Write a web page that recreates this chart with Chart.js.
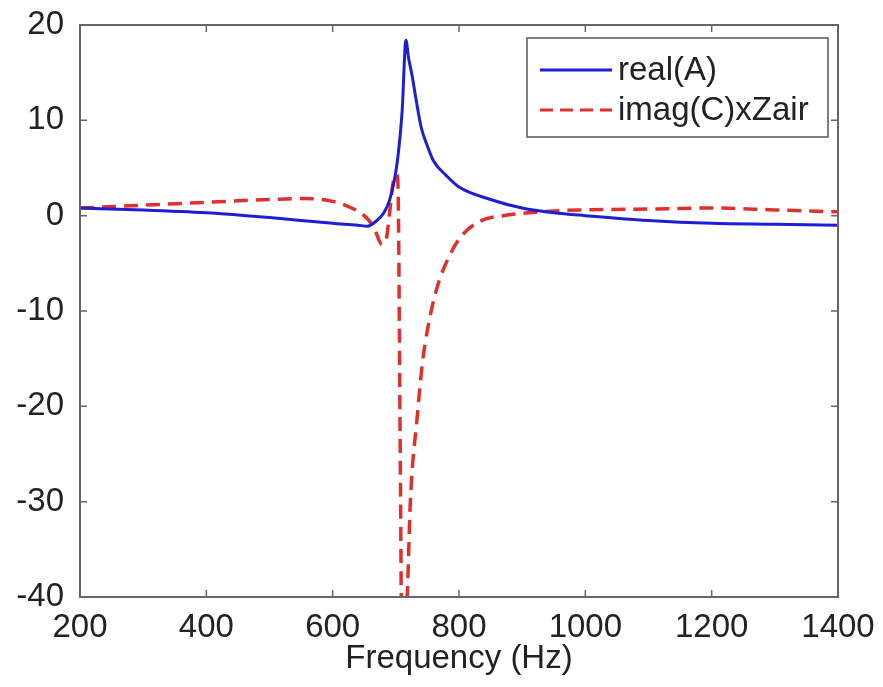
<!DOCTYPE html>
<html>
<head>
<meta charset="utf-8">
<script src="https://cdn.jsdelivr.net/npm/chart.js@4.4.0/dist/chart.umd.min.js"></script>
<style>
  html, body { margin: 0; padding: 0; background: #fff; }
  #wrap { width: 883px; height: 687px; }
</style>
</head>
<body>
<div id="wrap"><canvas id="myChart" width="883" height="687"></canvas></div>
<script>
// real(A) curve
var freqA = [200, 300, 400, 500, 600, 640, 655, 670, 680, 690, 700, 705, 710, 716, 720, 726, 732, 740, 750, 760, 780, 800, 850, 900, 950, 1000, 1100, 1200, 1300, 1400];
var realA = [0.8, 0.6, 0.3, -0.2, -0.8, -1.0, -1.1, -0.5, 0.2, 1.6, 4.6, 7.2, 11.0, 18.4, 16.6, 14.6, 12.2, 9.3, 7.3, 5.7, 4.2, 3.0, 1.7, 0.8, 0.3, 0.0, -0.5, -0.8, -0.9, -1.0];

// imag(C)xZair curve
var freqC = [200, 300, 400, 500, 550, 600, 630, 650, 665, 678, 685, 690, 695, 702, 704, 707, 710, 718, 723, 734, 742, 750, 765, 780, 802, 833, 870, 910, 950, 1000, 1100, 1200, 1300, 1400];
var imagC = [0.8, 1.1, 1.4, 1.7, 1.8, 1.5, 0.8, 0.0, -1.2, -3.0, -2.4, 0.2, 3.2, 4.3, 1.0, -25, -48, -40, -30, -21, -15.5, -12, -7.6, -4.9, -2.3, -0.6, 0.0, 0.3, 0.5, 0.6, 0.7, 0.8, 0.6, 0.4];

var xTicks = [200, 400, 600, 800, 1000, 1200, 1400];
var yTicks = [-40, -30, -20, -10, 0, 10, 20];
var seriesNames = ['real(A)', 'imag(C)xZair'];

var blue = '#1e1ed2';
var red = '#e0302c';
var fontFam = '"Liberation Sans", Arial, sans-serif';

function pairs(xs, ys) {
    return xs.map(function(x, i) { return {x: x, y: ys[i]}; });
}

// matlab style box, inward ticks, legend
var boxPlugin = {
    id: 'boxPlugin',
    afterDatasetsDraw: function(chart) {
        var ctx = chart.ctx;
        var a = chart.chartArea;
        var sx = chart.scales.x, sy = chart.scales.y;
        ctx.save();
        ctx.strokeStyle = '#666';
        ctx.lineWidth = 2;
        ctx.strokeRect(a.left, a.top, a.right - a.left, a.bottom - a.top);
        ctx.lineWidth = 1.5;
        ctx.beginPath();
        xTicks.forEach(function(v) {
            var px = sx.getPixelForValue(v);
            ctx.moveTo(px, a.bottom); ctx.lineTo(px, a.bottom - 7);
            ctx.moveTo(px, a.top); ctx.lineTo(px, a.top + 7);
        });
        yTicks.forEach(function(v) {
            var py = sy.getPixelForValue(v);
            ctx.moveTo(a.left, py); ctx.lineTo(a.left + 7, py);
            ctx.moveTo(a.right, py); ctx.lineTo(a.right - 7, py);
        });
        ctx.stroke();

        // legend box
        var lx = 527, ly = 38, lw = 301, lh = 99;
        ctx.fillStyle = '#fff';
        ctx.fillRect(lx, ly, lw, lh);
        ctx.strokeStyle = '#555';
        ctx.lineWidth = 1.5;
        ctx.strokeRect(lx, ly, lw, lh);
        var rows = [70, 110];
        var cols = [blue, red];
        ctx.font = '33px ' + fontFam;
        ctx.textBaseline = 'middle';
        for (var i = 0; i < 2; i++) {
            ctx.strokeStyle = cols[i];
            ctx.lineWidth = 3;
            ctx.setLineDash(i == 1 ? [13, 7] : []);
            ctx.beginPath();
            ctx.moveTo(540, rows[i]); ctx.lineTo(612, rows[i]);
            ctx.stroke();
            ctx.setLineDash([]);
            ctx.fillStyle = '#222';
            ctx.fillText(seriesNames[i], 618, rows[i] + 1);
        }
        ctx.restore();
    }
};

new Chart("myChart", {
    type: "line",
    data: {
        datasets: [
        {
            label: seriesNames[0],
            data: pairs(freqA, realA),
            borderColor: blue,
            borderWidth: 3,
            pointRadius: 0,
            cubicInterpolationMode: 'monotone',
            fill: false
        },
        {
            label: seriesNames[1],
            data: pairs(freqC, imagC),
            borderColor: red,
            borderWidth: 3.5,
            borderDash: [14, 8],
            pointRadius: 0,
            cubicInterpolationMode: 'monotone',
            fill: false
        }]
    },
    options: {
        responsive: false,
        animation: false,
        layout: {padding: {top: 25, right: 45, left: 0, bottom: 0}},
        plugins: {legend: {display: false}, tooltip: {enabled: false}},
        scales: {
            x: {
                type: 'linear',
                min: 200, max: 1400,
                afterBuildTicks: function(s) { s.ticks = xTicks.map(function(v) { return {value: v}; }); },
                afterFit: function(s) { s.height = 90; },
                grid: {display: false},
                border: {display: false},
                ticks: {
                    color: '#222',
                    padding: 6,
                    maxRotation: 0,
                    callback: function(v) { return String(v); },
                    font: {family: fontFam, size: 33, lineHeight: 1}
                },
                title: {
                    display: true,
                    text: 'Frequency (Hz)',
                    color: '#222',
                    padding: {top: 3, bottom: 12},
                    font: {family: fontFam, size: 33, lineHeight: 1}
                }
            },
            y: {
                min: -40, max: 20,
                afterBuildTicks: function(s) { s.ticks = yTicks.map(function(v) { return {value: v}; }); },
                afterFit: function(s) { s.width = 80; },
                grid: {display: false},
                border: {display: false},
                ticks: {
                    color: '#222',
                    padding: 8,
                    callback: function(v) { return String(v); },
                    font: {family: fontFam, size: 33, lineHeight: 1}
                }
            }
        }
    },
    plugins: [boxPlugin]
});
</script>
</body>
</html>
